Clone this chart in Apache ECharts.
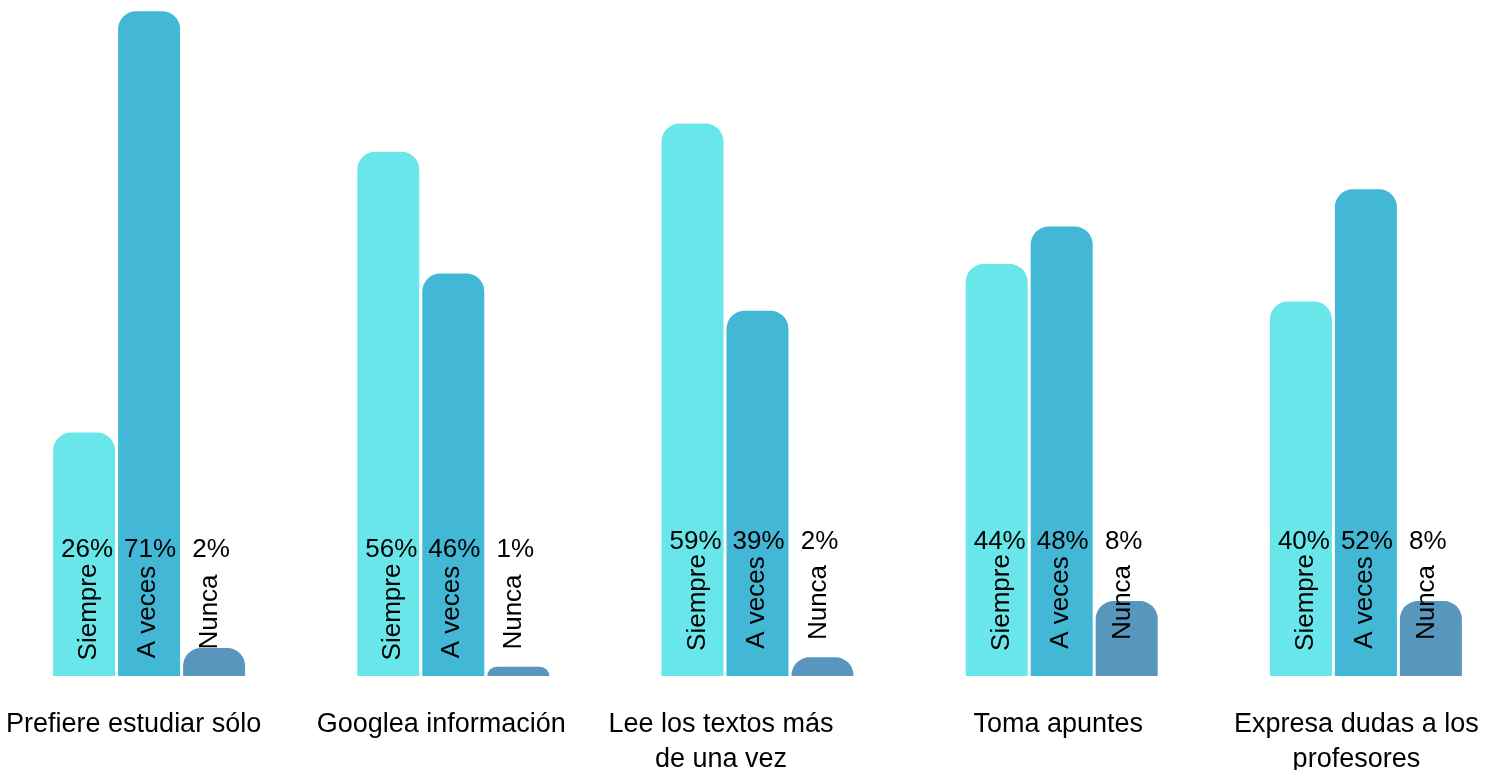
<!DOCTYPE html>
<html>
<head>
<meta charset="utf-8">
<script src="https://cdn.jsdelivr.net/npm/echarts@6/dist/echarts.min.js"></script>
<style>
html,body{margin:0;padding:0;background:#fff;overflow:hidden;width:1494px;height:770px;}
#chart{position:absolute;left:-2.6px;top:0;width:1521.25px;height:770px;}
</style>
</head>
<body>
<div id="chart"></div>
<script>
// ---- data ----
const categories = ['Prefiere estudiar sólo', 'Googlea información', 'Lee los textos más\nde una vez', 'Toma apuntes', 'Expresa dudas a los\nprofesores'];
const statusNames = ['Siempre', 'A veces', 'Nunca'];
const siempreValues = [26, 56, 59, 44, 40];
const aVecesValues = [71, 43, 39, 48, 52];
const nuncaValues = [3, 1, 2, 8, 8];
const siempreLabels = ['26%', '56%', '59%', '44%', '40%'];
const aVecesLabels = ['71%', '46%', '39%', '48%', '52%'];
const nuncaLabels = ['2%', '1%', '2%', '8%', '8%'];

// ---- styling / layout ----
const colors = ['#69e6e9', '#42b7d6', '#5896bd'];
const FONT = "'Liberation Sans', Arial, sans-serif";
const BAR_W = 62, BAR_GAP = 3;
const catShift = [-15.5, -12, -36.5, -3.5, -9.5];       // horizontal nudge of category labels
const pctRise = [126, 126, 134, 134, 134];              // percent label centre above baseline
const nameRise = [64, 64, 73.5, 73.5, 73.5];            // rotated name centre above baseline
const pctDx = [3, 1, -3];
const nameDx = [5, -1, -4];

const valueSets = [siempreValues, aVecesValues, nuncaValues];
const labelSets = [siempreLabels, aVecesLabels, nuncaLabels];

const rich = {};
categories.forEach((c, i) => {
  const sh = catShift[i];
  rich['c' + i] = {
    fontSize: 27, fontFamily: FONT, color: '#000', lineHeight: 35,
    padding: sh < 0 ? [0, -2 * sh, 0, 0] : [0, 0, 0, 2 * sh]
  };
});

const barSeries = statusNames.map((name, s) => ({
  name: name,
  type: 'bar',
  data: valueSets[s],
  barWidth: BAR_W,
  barGap: (BAR_GAP / BAR_W * 100) + '%',
  itemStyle: { color: colors[s], borderRadius: [18, 18, 0, 0] },
  silent: true,
  z: 2
}));

const labelData = [];
categories.forEach((c, i) => {
  statusNames.forEach((n, s) => labelData.push([i, 0, s]));
});

const labelSeries = {
  type: 'custom',
  coordinateSystem: 'cartesian2d',
  data: labelData,
  encode: { x: 0, y: 1 },
  silent: true,
  clip: false,
  z: 10,
  renderItem: function (params, api) {
    const i = api.value(0);
    const s = api.value(2);
    const base = api.coord([i, 0]);
    const pitch = BAR_W + BAR_GAP;
    const cx = base[0] + (s - 1) * pitch;
    return {
      type: 'group',
      children: [
        {
          type: 'text',
          x: cx + pctDx[s],
          y: base[1] - pctRise[i],
          style: {
            text: labelSets[s][i], fill: '#000',
            font: '26px ' + FONT, align: 'center', verticalAlign: 'middle'
          }
        },
        {
          type: 'text',
          x: cx + nameDx[s],
          y: base[1] - nameRise[i],
          rotation: Math.PI / 2,
          style: {
            text: statusNames[s], fill: '#000',
            font: '26px ' + FONT, align: 'center', verticalAlign: 'middle'
          }
        }
      ]
    };
  }
};

const chart = echarts.init(document.getElementById('chart'), null, { renderer: 'canvas' });
chart.setOption({
  animation: false,
  backgroundColor: '#fff',
  grid: { left: 0, right: 0, top: 0, bottom: 94, containLabel: false, outerBoundsMode: 'none' },
  xAxis: {
    type: 'category',
    data: categories,
    axisLine: { show: false },
    axisTick: { show: false },
    axisLabel: {
      interval: 0,
      margin: 31,
      formatter: function (val, idx) {
        return val.split('\n').map(l => '{c' + idx + '|' + l + '}').join('\n');
      },
      rich: rich
    }
  },
  yAxis: { type: 'value', min: 0, max: 72.2, show: false, splitLine: { show: false } },
  series: barSeries.concat([labelSeries])
});
</script>
</body>
</html>
